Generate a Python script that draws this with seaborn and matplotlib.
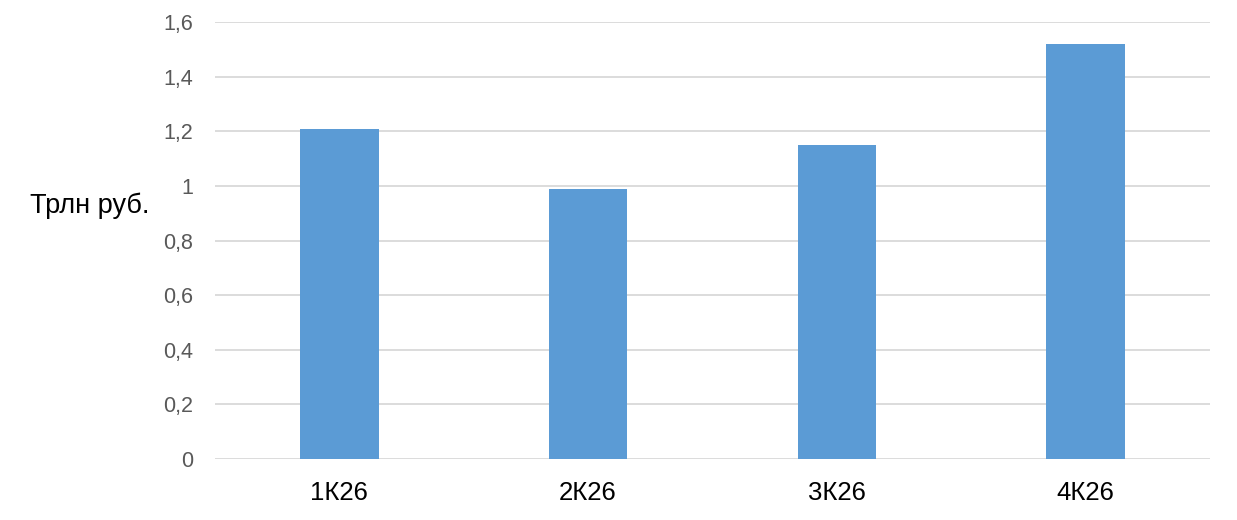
import matplotlib
matplotlib.use('Agg')
import matplotlib.pyplot as plt
import seaborn as sns
import pandas as pd

quarters = ['1К26', '2К26', '3К26', '4К26']
values = [1.21, 0.99, 1.15, 1.52]
y_ticks = [0, 0.2, 0.4, 0.6, 0.8, 1.0, 1.2, 1.4, 1.6]
y_tick_labels = ['0', '0,2', '0,4', '0,6', '0,8', '1', '1,2', '1,4', '1,6']

sns.set_style('white')
plt.rcParams['font.family'] = ['Liberation Sans', 'DejaVu Sans']

df = pd.DataFrame({'quarter': quarters, 'value': values})

fig = plt.figure(figsize=(12.37, 5.2), dpi=100)
ax = fig.add_axes([0.1738, 0.1173, 0.978 - 0.1738, 0.9577 - 0.1173])

sns.barplot(data=df, x='quarter', y='value', color='#5B9BD5', width=0.315,
            saturation=1, linewidth=0, ax=ax, zorder=3)

ax.set_ylim(0, 1.6)
ax.set_yticks(y_ticks)
ax.set_yticklabels(y_tick_labels)
ax.grid(axis='y', color='#D9D9D9', linewidth=1.3, zorder=0)
ax.set_axisbelow(True)
for s in ax.spines.values():
    s.set_visible(False)

ax.tick_params(axis='y', length=0, pad=16, labelsize=15.5, labelcolor='#595959')
ax.tick_params(axis='x', length=0, pad=16, labelsize=18.5, labelcolor='#000000')
ax.set_xlabel('')
ax.set_ylabel('')

fig.text(30 / 1237, 1 - 206 / 520, 'Трлн руб.', fontsize=19.5, ha='left', va='center', color='#000000')

fig.savefig('out.png', dpi=100)
